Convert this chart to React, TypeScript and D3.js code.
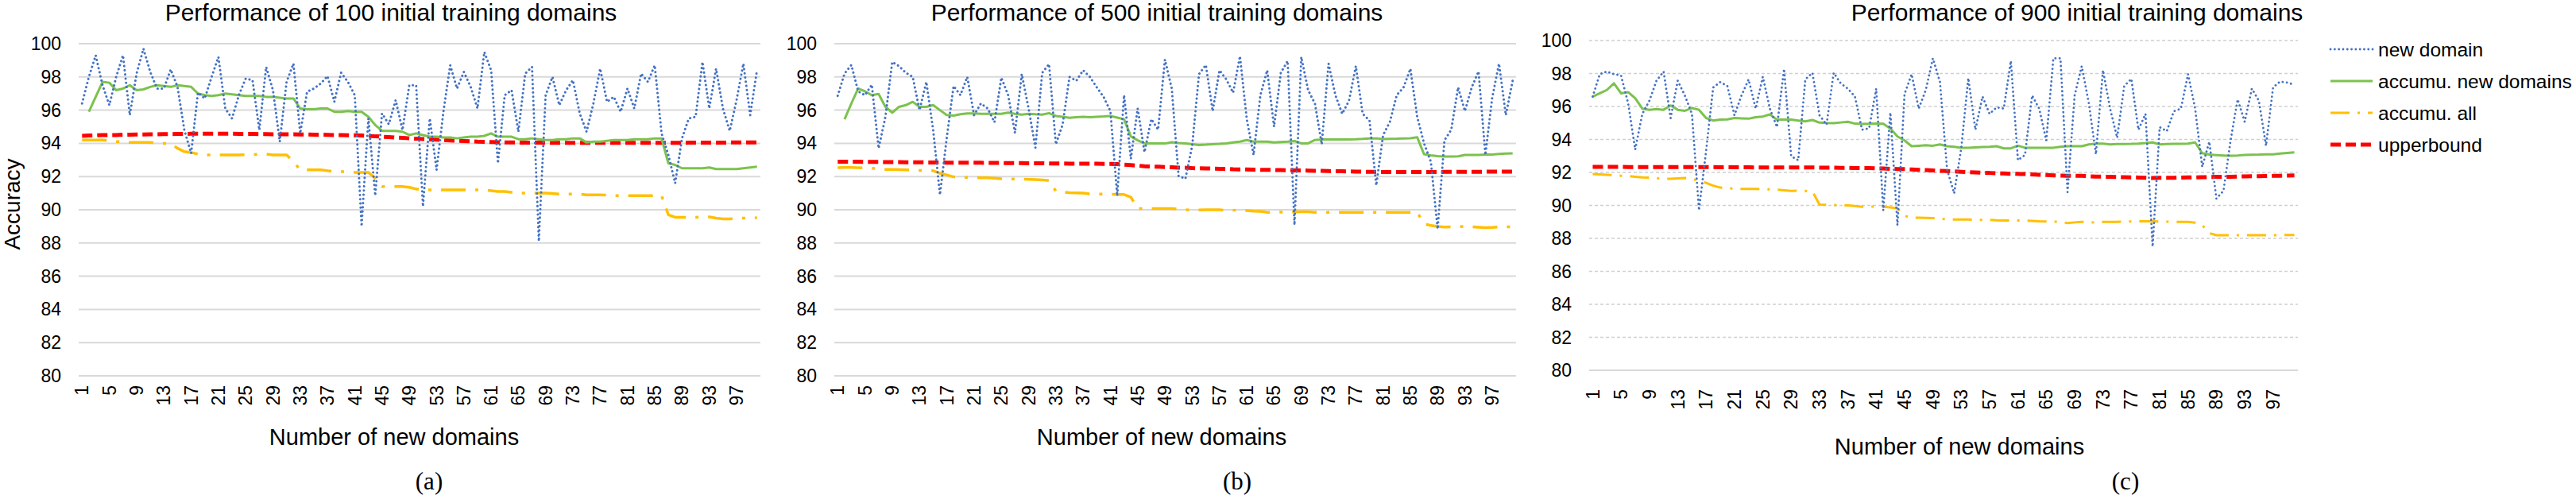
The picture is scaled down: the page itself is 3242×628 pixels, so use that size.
import React from 'react';
import * as d3 from 'd3';

// ── data ──────────────────────────────────────────────────────────────────
const domainsA = [
  96.4, 98.0, 99.3, 97.5, 96.3, 98.0, 99.3, 95.7, 98.2, 99.7,
  98.3, 97.3, 97.3, 98.45, 97.4, 94.8, 93.4, 97.05, 96.7, 98.0,
  99.2, 96.1, 95.5, 96.9, 97.9, 97.8, 94.8, 98.6, 97.2, 94.1,
  97.7, 98.8, 94.6, 97.1, 97.3, 97.6, 98.05, 96.5, 98.25, 97.7,
  96.9, 89.0, 95.5, 90.85, 95.8, 95.15, 96.6, 94.8, 97.5, 97.5,
  90.2, 95.5, 92.4, 95.9, 98.7, 97.3, 98.3, 97.4, 96.1, 99.5,
  98.4, 92.8, 96.9, 97.2, 94.7, 98.2, 98.6, 88.1, 96.9, 98.0,
  96.3, 97.2, 97.8, 95.8, 94.7, 96.4, 98.5, 96.5, 96.8, 95.9,
  97.3, 96.1, 98.2, 97.7, 98.7, 94.6, 93.3, 91.6, 94.3, 95.5,
  95.6, 98.9, 96.1, 98.5, 96.1, 94.75, 96.6, 98.8, 95.7, 98.4,
];
const accNewA = [
  null, 95.9, 96.8, 97.7, 97.65, 97.2, 97.3, 97.5, 97.2, 97.25,
  97.4, 97.5, 97.45, 97.4, 97.5, 97.45, 97.4, 97.0, 96.9, 96.85,
  96.9, 97.0, 96.95, 96.9, 96.85, 96.85, 96.85, 96.8, 96.8, 96.75,
  96.7, 96.7, 96.1, 96.05, 96.05, 96.1, 96.1, 95.9, 95.9, 95.95,
  95.9, 95.9, 95.6, 95.1, 94.75, 94.75, 94.75, 94.7, 94.5, 94.6,
  94.5, 94.4, 94.4, 94.35, 94.35, 94.3, 94.35, 94.4, 94.4, 94.45,
  94.6, 94.4, 94.4, 94.4, 94.25, 94.25, 94.3, 94.25, 94.2, 94.2,
  94.25, 94.25, 94.3, 94.3, 94.05, 94.1, 94.1, 94.15, 94.2, 94.2,
  94.2, 94.25, 94.25, 94.25, 94.3, 94.3, 92.8, 92.7, 92.5, 92.5,
  92.5, 92.5, 92.55, 92.45, 92.45, 92.45, 92.45, 92.5, 92.55, 92.6,
];
const accAllA = [
  94.2, 94.2, 94.2, 94.2, 94.15, 94.1, 94.1, 94.05, 94.05, 94.05,
  94.05, 94.0, 94.0, 94.0, 93.7, 93.5, 93.45, 93.35, 93.3, 93.3,
  93.3, 93.3, 93.3, 93.3, 93.32, 93.32, 93.35, 93.35, 93.3, 93.3,
  93.3, 92.9, 92.4, 92.4, 92.4, 92.4, 92.35, 92.3, 92.3, 92.28,
  92.25, 92.25, 92.25, 91.9, 91.4, 91.4, 91.4, 91.4, 91.35, 91.25,
  91.25, 91.2, 91.2, 91.2, 91.2, 91.2, 91.2, 91.2, 91.2, 91.2,
  91.15, 91.1, 91.1, 91.05, 91.0, 91.0, 91.0, 91.0, 91.0, 90.98,
  90.95, 90.95, 90.95, 90.95, 90.9, 90.9, 90.9, 90.88, 90.85, 90.85,
  90.85, 90.85, 90.85, 90.85, 90.85, 90.85, 89.7, 89.55, 89.55, 89.55,
  89.55, 89.57, 89.57, 89.5, 89.45, 89.45, 89.48, 89.5, 89.5, 89.52,
];
const upperA = [
  94.45, 94.47, 94.48, 94.5, 94.5, 94.5, 94.52, 94.52, 94.53, 94.53,
  94.55, 94.55, 94.56, 94.56, 94.57, 94.57, 94.58, 94.58, 94.58, 94.58,
  94.58, 94.58, 94.58, 94.57, 94.57, 94.57, 94.56, 94.56, 94.55, 94.55,
  94.54, 94.54, 94.53, 94.53, 94.52, 94.52, 94.51, 94.5, 94.5, 94.49,
  94.48, 94.47, 94.45, 94.42, 94.4, 94.38, 94.35, 94.33, 94.3, 94.28,
  94.26, 94.24, 94.22, 94.2, 94.18, 94.16, 94.14, 94.12, 94.1, 94.09,
  94.08, 94.07, 94.06, 94.05, 94.05, 94.04, 94.04, 94.04, 94.03, 94.03,
  94.03, 94.03, 94.03, 94.03, 94.03, 94.03, 94.03, 94.03, 94.03, 94.03,
  94.03, 94.03, 94.03, 94.03, 94.03, 94.03, 94.03, 94.03, 94.03, 94.04,
  94.04, 94.04, 94.04, 94.04, 94.04, 94.05, 94.05, 94.05, 94.05, 94.05,
];

const domainsB = [
  96.86, 98.2, 98.72, 97.13, 96.9, 97.53, 93.7, 95.6, 98.9, 98.65,
  98.25, 98.0, 96.0, 97.7, 94.8, 90.9, 94.35, 97.45, 96.9, 98.0,
  95.7, 96.4, 96.1, 95.27, 97.96, 96.9, 94.63, 98.17, 96.1, 93.74,
  98.25, 98.77, 93.94, 95.14, 98.0, 97.77, 98.4, 98.0, 97.37, 96.8,
  95.94, 90.84, 96.9, 93.07, 96.1, 93.47, 95.46, 94.82, 99.04, 97.3,
  92.03, 91.87, 93.86, 98.17, 98.72, 95.94, 98.4, 97.85, 97.05, 99.25,
  95.46, 93.3, 96.9, 98.4, 95.0, 98.25, 98.96, 89.08, 99.2, 97.2,
  96.4, 93.94, 98.8, 96.9, 95.78, 96.57, 98.65, 95.78, 95.38, 91.47,
  94.5, 95.3, 96.9, 97.37, 98.49, 95.6, 94.0, 92.9, 88.84, 94.18,
  94.82, 97.37, 95.94, 97.37, 98.33, 93.3, 96.73, 98.8, 95.7, 97.77,
];
const accNewB = [
  null, 95.45, 96.4, 97.3, 97.13, 96.9, 96.97, 96.2, 95.85, 96.2,
  96.3, 96.5, 96.2, 96.2, 96.3, 96.0, 95.7, 95.67, 95.75, 95.8,
  95.8, 95.78, 95.78, 95.78, 95.78, 95.85, 95.78, 95.73, 95.78, 95.75,
  95.73, 95.82, 95.65, 95.6, 95.54, 95.57, 95.6, 95.57, 95.6, 95.62,
  95.65, 95.55, 95.45, 94.42, 94.18, 94.0, 94.0, 94.0, 93.99, 94.07,
  94.02, 93.99, 93.95, 93.9, 93.92, 93.95, 93.97, 94.0, 94.05, 94.1,
  94.2, 94.1, 94.1, 94.1, 94.05, 94.08, 94.1, 94.14, 94.0, 94.0,
  94.2, 94.23, 94.23, 94.23, 94.23, 94.24, 94.25, 94.27, 94.3, 94.3,
  94.26, 94.27, 94.28, 94.3, 94.31, 94.37, 93.35, 93.28, 93.23, 93.2,
  93.2, 93.22, 93.3, 93.3, 93.3, 93.32, 93.33, 93.36, 93.38, 93.4,
];
const accAllB = [
  92.54, 92.55, 92.55, 92.53, 92.52, 92.5, 92.47, 92.43, 92.43, 92.42,
  92.4, 92.38, 92.37, 92.36, 92.35, 92.2, 92.1, 91.98, 91.96, 91.95,
  91.94, 91.93, 91.92, 91.9, 91.87, 91.86, 91.85, 91.84, 91.83, 91.82,
  91.8, 91.76, 91.12, 91.07, 91.03, 91.02, 91.0, 90.96, 90.95, 90.95,
  90.93, 90.92, 90.92, 90.76, 90.07, 90.08, 90.07, 90.07, 90.07, 90.07,
  90.03, 90.0, 89.98, 89.99, 90.0, 90.0, 90.0, 89.96, 89.97, 90.0,
  89.95, 89.92, 89.9, 89.85, 89.83, 89.86, 89.88, 89.87, 89.88, 89.88,
  89.85, 89.82, 89.84, 89.85, 89.85, 89.85, 89.85, 89.85, 89.85, 89.85,
  89.85, 89.85, 89.85, 89.85, 89.85, 89.85, 89.16, 89.05, 89.0, 88.96,
  88.97, 88.98, 89.0, 88.98, 88.95, 88.92, 88.94, 88.96, 88.97, 88.98,
];
const upperB = [
  92.9, 92.9, 92.89, 92.89, 92.88, 92.88, 92.88, 92.87, 92.87, 92.87,
  92.86, 92.86, 92.86, 92.85, 92.85, 92.85, 92.84, 92.84, 92.84, 92.83,
  92.83, 92.83, 92.82, 92.82, 92.82, 92.81, 92.81, 92.81, 92.8, 92.8,
  92.8, 92.79, 92.79, 92.79, 92.78, 92.78, 92.78, 92.77, 92.77, 92.76,
  92.76, 92.75, 92.72, 92.69, 92.66, 92.62, 92.6, 92.59, 92.57, 92.56,
  92.54, 92.53, 92.51, 92.5, 92.49, 92.48, 92.47, 92.46, 92.44, 92.43,
  92.43, 92.42, 92.41, 92.41, 92.4, 92.39, 92.38, 92.37, 92.37, 92.36,
  92.35, 92.34, 92.33, 92.32, 92.32, 92.31, 92.3, 92.29, 92.28, 92.28,
  92.27, 92.27, 92.27, 92.27, 92.27, 92.27, 92.27, 92.27, 92.27, 92.28,
  92.28, 92.28, 92.28, 92.29, 92.29, 92.29, 92.3, 92.3, 92.3, 92.3,
];

const domainsC = [
  96.6, 97.96, 98.12, 97.96, 97.88, 96.2, 93.38, 95.55, 96.35, 97.56,
  98.12, 95.3, 97.56, 96.67, 95.55, 89.7, 93.3, 97.15, 97.48, 97.24,
  95.47, 96.67, 97.64, 95.87, 97.8, 95.87, 94.75, 98.28, 92.98, 92.74,
  97.64, 98.04, 95.47, 94.9, 98.04, 97.4, 97.08, 96.6, 94.59, 94.67,
  97.08, 89.7, 95.63, 88.8, 96.76, 97.96, 95.87, 97.0, 98.92, 97.48,
  92.18, 90.73, 93.46, 97.72, 94.59, 96.6, 95.55, 95.95, 95.87, 98.76,
  92.74, 93.06, 96.67, 95.87, 93.94, 98.92, 98.92, 90.81, 96.67, 98.44,
  96.2, 93.1, 98.2, 95.87, 94.1, 97.24, 97.67, 94.59, 95.55, 87.5,
  94.75, 94.5, 95.71, 95.87, 97.96, 95.87, 92.34, 93.86, 90.41, 90.89,
  93.94, 96.43, 95.07, 97.08, 96.35, 93.62, 97.16, 97.51, 97.45, 97.32,
];
const accNewC = [
  96.6, 96.8, 97.0, 97.4, 96.8, 96.87, 96.5, 95.87, 95.8, 95.84,
  95.8, 96.06, 95.8, 95.74, 95.9, 95.8, 95.3, 95.15, 95.2, 95.22,
  95.3, 95.28, 95.26, 95.35, 95.39, 95.52, 95.2, 95.2, 95.2, 95.15,
  95.1, 95.18, 95.02, 95.0, 94.99, 95.03, 95.07, 94.96, 94.94, 94.95,
  94.96, 94.95, 94.66, 94.18, 93.94, 93.59, 93.62, 93.65, 93.62, 93.7,
  93.59, 93.55, 93.49, 93.49, 93.52, 93.54, 93.56, 93.59, 93.46, 93.46,
  93.62, 93.5, 93.5, 93.49, 93.5, 93.5, 93.55, 93.59, 93.59, 93.59,
  93.7, 93.75, 93.75, 93.7, 93.72, 93.72, 93.73, 93.75, 93.78, 93.82,
  93.7, 93.72, 93.73, 93.74, 93.75, 93.82, 93.17, 93.08, 93.05, 93.03,
  93.01, 93.03, 93.06, 93.07, 93.08, 93.1, 93.1, 93.14, 93.18, 93.22,
];
const accAllC = [
  91.9, 91.88, 91.86, 91.84, 91.8, 91.78, 91.74, 91.7, 91.68, 91.65,
  91.6, 91.62, 91.64, 91.66, 91.6, 91.5, 91.37, 91.2, 91.08, 91.04,
  91.02, 91.0, 91.0, 91.0, 90.98, 90.97, 90.96, 90.92, 90.88, 90.9,
  90.88, 90.85, 90.05, 90.03, 90.02, 90.0, 90.0, 89.96, 89.92, 89.93,
  89.93, 89.92, 89.88, 89.82, 89.37, 89.25, 89.25, 89.24, 89.23, 89.2,
  89.15, 89.15, 89.15, 89.14, 89.13, 89.12, 89.12, 89.1, 89.09, 89.08,
  89.08, 89.08, 89.06, 89.04, 89.03, 89.02, 89.0, 88.93, 88.97, 89.0,
  88.99, 88.96, 89.0, 89.0, 89.0, 89.02, 89.03, 89.04, 89.04, 89.04,
  89.02, 89.01, 89.0, 89.0, 89.0, 88.95, 88.8, 88.32, 88.19, 88.19,
  88.19, 88.19, 88.19, 88.19, 88.19, 88.19, 88.19, 88.2, 88.2, 88.2,
];
const upperC = [
  92.34, 92.34, 92.34, 92.34, 92.34, 92.33, 92.33, 92.33, 92.33, 92.33,
  92.33, 92.32, 92.32, 92.32, 92.32, 92.32, 92.32, 92.32, 92.31, 92.31,
  92.31, 92.31, 92.31, 92.3, 92.3, 92.3, 92.3, 92.3, 92.3, 92.3,
  92.3, 92.3, 92.29, 92.29, 92.29, 92.28, 92.28, 92.27, 92.26, 92.26,
  92.25, 92.24, 92.22, 92.21, 92.2, 92.18, 92.16, 92.14, 92.12, 92.1,
  92.08, 92.06, 92.04, 92.02, 92.0, 91.98, 91.97, 91.95, 91.94, 91.92,
  91.91, 91.9, 91.88, 91.86, 91.84, 91.82, 91.81, 91.8, 91.8, 91.79,
  91.77, 91.75, 91.74, 91.73, 91.72, 91.71, 91.7, 91.69, 91.68, 91.66,
  91.67, 91.67, 91.68, 91.69, 91.7, 91.7, 91.71, 91.72, 91.73, 91.73,
  91.74, 91.75, 91.76, 91.77, 91.77, 91.78, 91.79, 91.8, 91.81, 91.82,
];

const categories = d3.range(1, 101);
const xTickLabels = d3.range(1, 101, 4);
const yTicks = d3.range(80, 101, 2);
const seriesNames = ['new domain', 'accumu. new domains', 'accumu. all', 'upperbound'];
const titles = [
  'Performance of 100 initial training domains',
  'Performance of 500 initial training domains',
  'Performance of 900 initial training domains',
];
const captions = ['(a)', '(b)', '(c)'];

// ── styling / layout ──────────────────────────────────────────────────────
const W = 3242;
const H = 628;
const SANS = '"Liberation Sans", Arial, Helvetica, sans-serif';
const SERIF = '"Liberation Serif", "Times New Roman", serif';
const COLORS = ['#4472C4', '#7CC24E', '#FFC000', '#FF0000'];

const layouts = [
  { left: 99, right: 957, top: 55, bottom: 473, titleX: 492, xLabelX: 496, xLabelY: 560, capX: 540, tickGap: 12, dashedGrid: false, thin: false },
  { left: 1050, right: 1908, top: 55, bottom: 473, titleX: 1456, xLabelX: 1462, xLabelY: 560, capX: 1557, tickGap: 12, dashedGrid: false, thin: false },
  { left: 2000, right: 2892, top: 51, bottom: 466, titleX: 2614, xLabelX: 2466, xLabelY: 572, capX: 2675, tickGap: 24, dashedGrid: true, thin: true },
];

const panelSeries = [
  [domainsA, accNewA, accAllA, upperA],
  [domainsB, accNewB, accAllB, upperB],
  [domainsC, accNewC, accAllC, upperC],
];

function seriesStyle(k: number, thin: boolean) {
  if (k === 0) return { stroke: COLORS[0], strokeWidth: thin ? 2.8 : 3, strokeDasharray: '0.1 5.2', strokeLinecap: 'round' as const };
  if (k === 1) return { stroke: COLORS[1], strokeWidth: 3, strokeDasharray: undefined, strokeLinecap: 'butt' as const };
  if (k === 2) return { stroke: COLORS[2], strokeWidth: thin ? 3 : 3.5, strokeDasharray: thin ? '24 10 3 10' : '31 12 4 12', strokeLinecap: 'butt' as const };
  return { stroke: COLORS[3], strokeWidth: 5, strokeDasharray: '13 6', strokeLinecap: 'butt' as const };
}

function Panel({ idx }: { idx: number }) {
  const L = layouts[idx];
  const x = d3.scalePoint<number>().domain(categories).range([L.left, L.right]).padding(0.5);
  const y = d3.scaleLinear().domain([80, 100]).range([L.bottom, L.top]);
  const line = d3
    .line<number | null>()
    .defined((d) => d != null)
    .x((_d, i) => x(categories[i]) as number)
    .y((d) => y(d as number));

  return (
    <g>
      {/* gridlines */}
      {yTicks.map((t) => (
        <line
          key={t}
          x1={L.left}
          x2={L.right}
          y1={y(t)}
          y2={y(t)}
          stroke={L.dashedGrid && t !== 80 ? '#D0D0D0' : '#D9D9D9'}
          strokeWidth={L.dashedGrid && t !== 80 ? 1.5 : 2}
          strokeDasharray={L.dashedGrid && t !== 80 ? '4 3' : undefined}
        />
      ))}
      {/* y tick labels */}
      {yTicks.map((t) => (
        <text key={t} x={L.left - 22} y={y(t)} dy="0.35em" textAnchor="end" fontSize={23} fontFamily={SANS} fill="#000">
          {t}
        </text>
      ))}
      {/* x tick labels */}
      {xTickLabels.map((c) => (
        <text
          key={c}
          transform={`translate(${x(c)},${L.bottom + L.tickGap}) rotate(-90)`}
          dy="0.35em"
          textAnchor="end"
          fontSize={23}
          fontFamily={SANS}
          fill="#000"
        >
          {c}
        </text>
      ))}
      {/* series: accumu. all, upperbound, accumu. new, then new domain on top */}
      {[2, 3, 1, 0].map((k) => {
        const s = seriesStyle(k, L.thin);
        return (
          <path
            key={k}
            d={line(panelSeries[idx][k]) || ''}
            fill="none"
            stroke={s.stroke}
            strokeWidth={s.strokeWidth}
            strokeDasharray={s.strokeDasharray}
            strokeLinecap={s.strokeLinecap}
            strokeLinejoin="round"
          />
        );
      })}
      <text x={L.titleX} y={26} textAnchor="middle" fontSize={30} fontFamily={SANS} fill="#000">
        {titles[idx]}
      </text>
      <text x={L.xLabelX} y={L.xLabelY} textAnchor="middle" fontSize={29} fontFamily={SANS} fill="#000">
        Number of new domains
      </text>
      <text x={L.capX} y={616} textAnchor="middle" fontSize={31} fontFamily={SERIF} fill="#000">
        {captions[idx]}
      </text>
    </g>
  );
}

export default function App() {
  const legendY = [62, 102, 142, 182];
  return (
    <svg
      width={W}
      height={H}
      viewBox={`0 0 ${W} ${H}`}
      style={{ position: 'absolute', left: 0, top: 0, background: '#fff' }}
    >
      <rect width={W} height={H} fill="#fff" />
      <text transform="translate(25,257) rotate(-90)" textAnchor="middle" fontSize={28} fontFamily={SANS} fill="#000">
        Accuracy
      </text>
      {[0, 1, 2].map((i) => (
        <Panel key={i} idx={i} />
      ))}
      {/* legend */}
      {seriesNames.map((name, k) => {
        const s = seriesStyle(k, true);
        return (
          <g key={name}>
            <line
              x1={2933}
              x2={2986}
              y1={legendY[k]}
              y2={legendY[k]}
              stroke={s.stroke}
              strokeWidth={s.strokeWidth}
              strokeDasharray={s.strokeDasharray}
              strokeLinecap={s.strokeLinecap}
            />
            <text x={2993} y={legendY[k]} dy="0.35em" fontSize={24.5} fontFamily={SANS} fill="#000">
              {name}
            </text>
          </g>
        );
      })}
    </svg>
  );
}
